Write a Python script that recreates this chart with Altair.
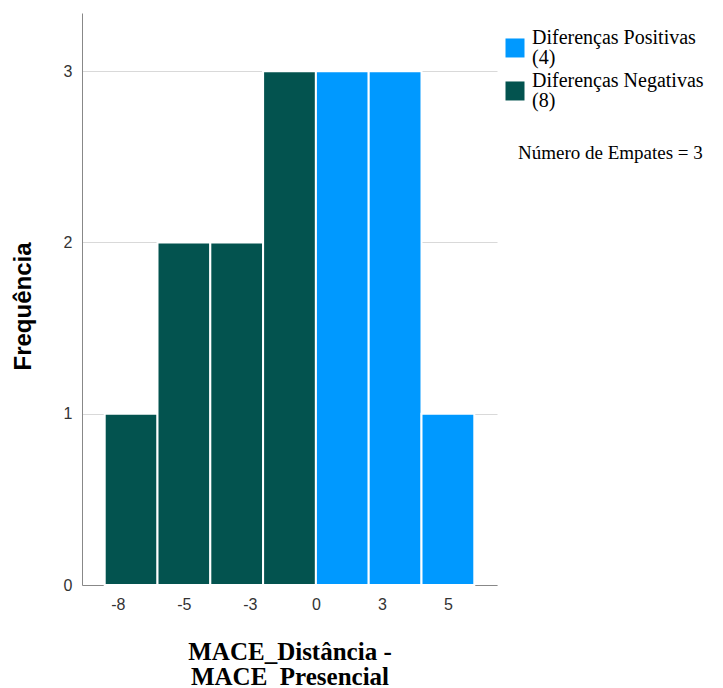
import altair as alt
import pandas as pd

# Histogram bins (width 2) and frequencies
bin_start = [-8, -6, -4, -2, 0, 2, 4]
bin_end = [-6, -4, -2, 0, 2, 4, 6]
counts = [1, 2, 2, 3, 3, 3, 1]
groups = ["Diferenças Negativas|(8)"] * 4 + ["Diferenças Positivas|(4)"] * 3

legend_order = ["Diferenças Positivas|(4)", "Diferenças Negativas|(8)"]
legend_colors = ["#0099FF", "#03534F"]

x_tick_values = [-7.5, -5, -2.5, 0, 2.5, 5]
x_tick_labels = ["-8", "-5", "-3", "0", "3", "5"]
y_tick_values = [0, 1, 2, 3]

ties_text = "Número de Empates = 3"

df = pd.DataFrame({"start": bin_start, "end": bin_end, "count": counts, "grupo": groups})

label_expr = " : ".join(
    [f"datum.value == {v} ? '{l}'" for v, l in zip(x_tick_values, x_tick_labels)]
) + " : ''"

SERIF = "Liberation Serif, Times New Roman, DejaVu Serif, serif"
# square symbol drawn slightly below the label's first line (as in SPSS legends)
SQUARE_LOW = "M-1,0.05L1,0.05L1,2.05L-1,2.05Z"

bars = alt.Chart(df).mark_bar(stroke="white", strokeWidth=2).encode(
    x=alt.X(
        "start:Q",
        scale=alt.Scale(domain=[-8.86, 6.86], nice=False, zero=False),
        axis=alt.Axis(
            values=x_tick_values,
            labelExpr=label_expr,
            title=["MACE_Distância -", "MACE_Presencial"],
            titleFont=SERIF,
            titleFontSize=25,
            titleFontWeight="bold",
            titleColor="black",
            titlePadding=27,
            titleLineHeight=25,
            labelFont="Liberation Sans",
            labelFontSize=16,
            labelColor="#333333",
            labelPadding=11,
            ticks=False,
            grid=False,
            domainColor="#888888",
        ),
    ),
    x2="end:Q",
    y=alt.Y(
        "count:Q",
        scale=alt.Scale(domain=[0, 3.34], nice=False),
        axis=alt.Axis(
            values=y_tick_values,
            format="d",
            title="Frequência",
            titleFont="Liberation Sans",
            titleFontSize=24,
            titleFontWeight="bold",
            titleColor="black",
            titlePadding=28,
            titleY=293,
            labelFont="Liberation Sans",
            labelFontSize=16,
            labelColor="#333333",
            labelPadding=10,
            ticks=False,
            grid=True,
            gridColor="#d9d9d9",
            domainColor="#888888",
        ),
    ),
    y2=alt.datum(0),
    color=alt.Color(
        "grupo:N",
        scale=alt.Scale(domain=legend_order, range=legend_colors),
        legend=alt.Legend(
            title=None,
            orient="none",
            legendX=423,
            legendY=15,
            symbolType=SQUARE_LOW,
            symbolSize=361,
            symbolStrokeWidth=0,
            labelFont=SERIF,
            labelFontSize=20,
            labelColor="black",
            labelLimit=300,
            labelOffset=7,
            rowPadding=3,
            labelExpr="split(datum.label, '|')",
        ),
    ),
)

note = alt.Chart(pd.DataFrame({"t": [ties_text]})).mark_text(
    align="left", baseline="middle", font=SERIF, fontSize=19, color="black"
).encode(x=alt.value(436), y=alt.value(140), text="t:N")

chart = alt.layer(bars, note).properties(
    width=415,
    height=572,
    padding={"left": 74, "top": 5, "right": 218, "bottom": 100},
    autosize=alt.AutoSizeParams(type="none"),
).configure(
    view=alt.ViewConfig(stroke="transparent"),
    style={"guide-label": alt.MarkConfig(lineHeight=20)},
)

chart.save("out.html", embed_options={"renderer": "svg", "actions": False})
